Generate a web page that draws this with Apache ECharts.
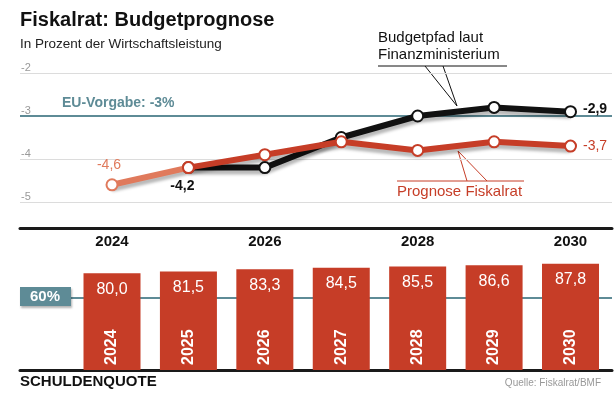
<!DOCTYPE html>
<html>
<head>
<meta charset="utf-8">
<script src="https://cdn.jsdelivr.net/npm/echarts@6/dist/echarts.min.js"></script>
<style>
	html, body { margin: 0; padding: 0; background: #fff; }
	#chart { width: 616px; height: 396px; }
</style>
</head>
<body>
<div id="chart"></div>
<script>
	// Daten
	const years = [2024, 2025, 2026, 2027, 2028, 2029, 2030];
	const yearTicks = [2024, 2026, 2028, 2030];
	const budgetpfad = [null, -4.2, -4.2, -3.5, -3.0, -2.8, -2.9]; // Finanzministerium
	const fiskalrat = [-4.6, -4.2, -3.9, -3.6, -3.8, -3.6, -3.7]; // Prognose Fiskalrat
	const schuldenquote = [80.0, 81.5, 83.3, 84.5, 85.5, 86.6, 87.8];
	const euVorgabe = -3;
	const maastricht = 60;

	// Farben
	const RED = '#c63d27';
	const ORANGE = '#e07a5c';
	const TEAL = '#5e8b96';
	const FONT = 'Liberation Sans';

	let fmt = v => v.toFixed(1).replace('.', ',');

	let chart = echarts.init(document.getElementById('chart'), null, { renderer: 'canvas' });

	// x-Achse als Wertachse, damit Gitterlinien über die volle Breite laufen
	const xMin = 2022.796, xMax = 2030.543;

	let lineStyleFor = color => ({
		color: color,
		width: 6,
		shadowColor: 'rgba(0,0,0,0.28)',
		shadowBlur: 3,
		shadowOffsetY: 4
	});
	let symbolStyleFor = color => ({ color: '#fff', borderColor: color, borderWidth: 2 });

	// Beschriftungen einzelner Punkte
	let blackLabels = {
		1: { position: 'bottom', offset: [-6, 0], fontWeight: 'bold' },
		6: { position: 'right', distance: 6, offset: [0, -3], fontWeight: 'bold' }
	};
	let blackData = years.map((y, i) => budgetpfad[i] == null ? null : {
		value: [y, budgetpfad[i]],
		label: blackLabels[i] ? Object.assign({ show: true }, blackLabels[i]) : { show: false }
	}).filter(d => d);

	let redData = years.map((y, i) => ({
		value: [y, fiskalrat[i]],
		label: i === 6 ? { show: true, position: 'right', distance: 6 } : { show: false }
	})).slice(1);

	let orangeData = years.slice(0, 2).map((y, i) => ({
		value: [y, fiskalrat[i]],
		label: i === 0 ? { show: true, position: 'top', distance: 6, offset: [-3, 0] } : { show: false }
	}));

	let option = {
		animation: false,
		textStyle: { fontFamily: FONT },
		grid: [
			{ left: 20, right: 4, top: 73, height: 129 },
			{ left: 20, right: 4, top: 249, height: 121 }
		],
		xAxis: [
			{
				gridIndex: 0, type: 'value', min: xMin, max: xMax,
				position: 'bottom', offset: 26,
				axisLine: { show: true, lineStyle: { color: '#1a1a1a', width: 3 } },
				axisTick: { show: false },
				splitLine: { show: false },
				axisLabel: {
					customValues: yearTicks,
					formatter: v => String(v),
					margin: 6,
					color: '#111', fontSize: 15, fontWeight: 'bold', fontFamily: FONT
				}
			},
			{
				gridIndex: 1, type: 'value', min: xMin, max: xMax,
				axisLine: { show: true, lineStyle: { color: '#1a1a1a', width: 3 } },
				axisTick: { show: false },
				axisLabel: { show: false },
				splitLine: { show: false }
			}
		],
		yAxis: [
			{
				gridIndex: 0, type: 'value', min: -5, max: -2, interval: 1,
				axisLine: { show: false },
				axisTick: { show: false },
				axisLabel: {
					inside: true, margin: 1, verticalAlign: 'bottom',
					color: '#999', fontSize: 11, fontFamily: FONT
				},
				splitLine: { lineStyle: { color: '#dcdcdc', width: 1 } }
			},
			{
				gridIndex: 1, type: 'value', min: 0, max: 100,
				show: false, splitLine: { show: false }
			}
		],
		series: [
			{
				name: 'Budgetpfad laut Finanzministerium',
				type: 'line', xAxisIndex: 0, yAxisIndex: 0, z: 3,
				data: blackData,
				symbol: 'circle', symbolSize: 11,
				lineStyle: lineStyleFor('#111'),
				itemStyle: symbolStyleFor('#111'),
				label: { color: '#111', fontSize: 14, formatter: p => fmt(p.value[1]) },
				emphasis: { disabled: true },
				markLine: {
					silent: true, symbol: 'none', z: 1,
					data: [{ yAxis: euVorgabe }],
					lineStyle: { color: TEAL, width: 2, type: 'solid' },
					label: { show: false }
				}
			},
			{
				name: 'Ist',
				type: 'line', xAxisIndex: 0, yAxisIndex: 0, z: 4,
				data: orangeData,
				symbol: 'circle', symbolSize: 11,
				lineStyle: lineStyleFor(ORANGE),
				itemStyle: symbolStyleFor(ORANGE),
				label: { color: ORANGE, fontSize: 14, formatter: p => fmt(p.value[1]) },
				emphasis: { disabled: true }
			},
			{
				name: 'Prognose Fiskalrat',
				type: 'line', xAxisIndex: 0, yAxisIndex: 0, z: 5,
				data: redData,
				symbol: 'circle', symbolSize: 11,
				lineStyle: lineStyleFor(RED),
				itemStyle: symbolStyleFor(RED),
				label: { color: RED, fontSize: 14, formatter: p => fmt(p.value[1]) },
				emphasis: { disabled: true }
			},
			{
				name: 'Schuldenquote',
				type: 'bar', xAxisIndex: 1, yAxisIndex: 1, z: 2,
				data: years.map((y, i) => [y, schuldenquote[i]]),
				barWidth: 57, barGap: '-100%',
				itemStyle: { color: RED },
				label: {
					show: true, position: 'insideTop', distance: 8,
					color: '#fff', fontSize: 16, fontFamily: FONT,
					formatter: p => fmt(p.value[1])
				},
				emphasis: { disabled: true },
				markLine: {
					silent: true, symbol: 'none', z: 1,
					data: [{ yAxis: maastricht }],
					lineStyle: { color: TEAL, width: 2, type: 'solid' },
					label: { show: false }
				}
			},
			{
				// Jahreszahlen in den Balken
				name: 'Jahr',
				type: 'bar', xAxisIndex: 1, yAxisIndex: 1, z: 3,
				data: years.map((y, i) => [y, schuldenquote[i]]),
				barWidth: 57, barGap: '-100%',
				itemStyle: { color: 'rgba(0,0,0,0)' },
				label: {
					show: true, position: 'insideBottom', distance: 5,
					rotate: 90, align: 'left', verticalAlign: 'middle',
					color: '#fff', fontSize: 16, fontWeight: 'bold', fontFamily: FONT,
					formatter: p => String(p.value[0])
				},
				emphasis: { disabled: true }
			}
		],
		graphic: [
			// Titel
			{ type: 'text', x: 20, y: 20, style: { text: 'Fiskalrat: Budgetprognose', fill: '#111', font: 'bold 20px ' + FONT, verticalAlign: 'middle' } },
			{ type: 'text', x: 20, y: 44, style: { text: 'In Prozent der Wirtschaftsleistung', fill: '#222', font: '13.5px ' + FONT, verticalAlign: 'middle' } },
			// EU-Vorgabe
			{ type: 'text', x: 62, y: 103, style: { text: 'EU-Vorgabe: -3%', fill: TEAL, font: 'bold 14px ' + FONT, verticalAlign: 'middle' } },
			// Annotation Finanzministerium
			{ type: 'text', x: 378, y: 46, style: { text: 'Budgetpfad laut\nFinanzministerium', fill: '#111', font: '15px ' + FONT, lineHeight: 17, verticalAlign: 'middle' } },
			{ type: 'line', shape: { x1: 378, y1: 66, x2: 507, y2: 66 }, style: { stroke: '#111', lineWidth: 1 } },
			{ type: 'polyline', shape: { points: [[425, 66], [457, 106], [443, 66]] }, style: { stroke: '#111', lineWidth: 1, fill: null } },
			// Annotation Fiskalrat
			{ type: 'text', x: 397, y: 192, style: { text: 'Prognose Fiskalrat', fill: RED, font: '15px ' + FONT, verticalAlign: 'middle' } },
			{ type: 'line', shape: { x1: 397, y1: 181, x2: 524, y2: 181 }, style: { stroke: RED, lineWidth: 1 } },
			{ type: 'polyline', shape: { points: [[467, 181], [458, 151], [487, 181]] }, style: { stroke: RED, lineWidth: 1, fill: null } },
			// 60%-Kasten
			{ type: 'rect', z: 10, shape: { x: 20, y: 287, width: 51, height: 19 }, style: { fill: TEAL, shadowColor: 'rgba(0,0,0,0.3)', shadowBlur: 2, shadowOffsetX: 1, shadowOffsetY: 2 } },
			{ type: 'text', z: 11, x: 45, y: 297, style: { text: '60%', fill: '#fff', font: 'bold 15px ' + FONT, align: 'center', verticalAlign: 'middle' } },
			// Fußzeile
			{ type: 'text', x: 20, y: 382, style: { text: 'SCHULDENQUOTE', fill: '#111', font: 'bold 15px ' + FONT, verticalAlign: 'middle' } },
			{ type: 'text', x: 601, y: 383, style: { text: 'Quelle: Fiskalrat/BMF', fill: '#999', font: '10px ' + FONT, align: 'right', verticalAlign: 'middle' } }
		]
	};

	chart.setOption(option);
</script>
</body>
</html>
